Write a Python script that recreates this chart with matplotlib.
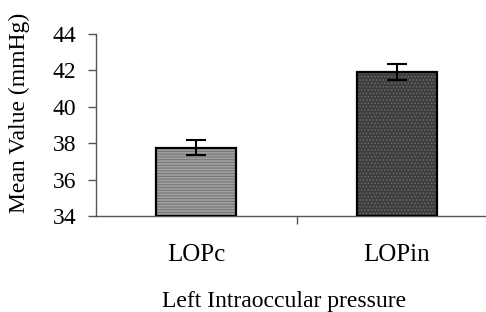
import matplotlib
matplotlib.use("Agg")
import matplotlib.pyplot as plt

categories = ["LOPc", "LOPin"]
means = [37.75, 41.9]
errors = [0.4, 0.45]
yticks = [34, 36, 38, 40, 42, 44]

plt.rcParams['font.family'] = ['Liberation Serif', 'DejaVu Serif']
plt.rcParams['hatch.linewidth'] = 0.8

fig = plt.figure(figsize=(4.86, 3.12), dpi=100)
ax = fig.add_axes([96/486, 1-216/312, (497-96)/486, (216-34)/312])

x = [1, 2]
faces = ['#a0a0a0', '#3c3c3c']
hatches = ['------', '.....']
hcols = ['#777777', '#6a6a6a']
for xi, m, fc, h, hc in zip(x, means, faces, hatches, hcols):
    ax.bar(xi, m - 34, bottom=34, width=0.4, facecolor=fc, hatch=h, edgecolor=hc, linewidth=0, zorder=2)
    ax.bar(xi, m - 34, bottom=34, width=0.4, facecolor='none', edgecolor='black', linewidth=1.6, zorder=3)
ax.errorbar(x, means, yerr=errors, fmt='none', ecolor='black', elinewidth=1.5, capsize=7, capthick=1.5, zorder=4)

ax.set_ylim(34, 44)
ax.set_xlim(0.5, 2.5)
ax.set_yticks(yticks)
ax.set_yticklabels([str(v) for v in yticks], fontsize=17)
ax.tick_params(axis='y', direction='out', length=6, width=1, color='#555555', pad=8)
ax.set_xticks([1.5])
ax.set_xticklabels([])
ax.tick_params(axis='x', direction='out', length=6, width=1, color='#555555')
off = matplotlib.transforms.ScaledTranslation(0, -39/100, fig.dpi_scale_trans)
for xi, c in zip(x, categories):
    ax.text(xi, 34, c, transform=ax.transData + off, ha='center', va='center', fontsize=18)

for s in ['top', 'right']:
    ax.spines[s].set_visible(False)
ax.spines['left'].set_color('#555555')
ax.spines['bottom'].set_color('#555555')
ax.spines['left'].set_linewidth(1)
ax.spines['bottom'].set_linewidth(1)

fig.text(284/486, 1-301/312, "Left Intraoccular pressure", ha='center', va='center', fontsize=17)
fig.text(19/486, 1-113/312, "Mean Value (mmHg)", ha='center', va='center', rotation=90, fontsize=17)

fig.savefig("out.png", dpi=100)
